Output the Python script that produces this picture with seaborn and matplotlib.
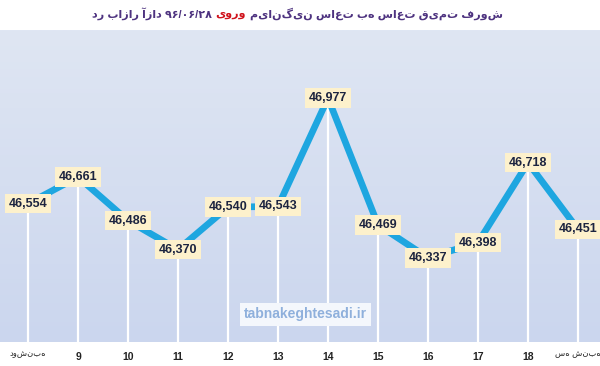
import numpy as np
import pandas as pd
import matplotlib
matplotlib.use("Agg")
import matplotlib.pyplot as plt
import matplotlib.transforms as mtrans
import seaborn as sns

# hourly average euro price (free market, 96/06/28)
hours = ["دوشنبه", "9", "10", "11", "12", "13", "14", "15", "16", "17", "18", "سه شنبه"]
prices = [46554, 46661, 46486, 46370, 46540, 46543, 46977, 46469, 46337, 46398, 46718, 46451]

# title pieces, right to left; the middle word is red
title_parts = ["میانگین ساعت به ساعت قیمت فروش", "یورو", "در بازار آزاد ۹۶/۰۶/۲۸"]
title_colors = ["#4e3380", "#d0121b", "#4e3380"]

sns.set_style("white")
plt.rcParams['font.family'] = ['Liberation Sans', 'DejaVu Sans']

df = pd.DataFrame({"pos": np.arange(len(hours)), "price": prices})

fig = plt.figure(figsize=(6, 3.66), dpi=100)
ax = fig.add_axes([0, 0.066, 1, 0.852])

# soft background gradient
grad = np.linspace(0, 1, 256).reshape(-1, 1)
cmap = matplotlib.colors.LinearSegmentedColormap.from_list("bg", ["#dfe6f3", "#cbd6ee"])
ax.imshow(grad, aspect="auto", cmap=cmap, extent=[-0.56, 11.44, 46000, 47250],
          origin="upper", zorder=0)

# white drop lines
ax.vlines(df["pos"], 46000, df["price"], color="white", linewidth=1.6, zorder=1)

sns.lineplot(data=df, x="pos", y="price", ax=ax, color="#1ea6e0", linewidth=4.8,
             zorder=2, solid_joinstyle="miter")

for x, y in zip(df["pos"], df["price"]):
    ax.text(x, y, f"{y:,}", ha="center", va="center", fontsize=9, fontweight="bold",
            color="#1c2440", zorder=3,
            bbox=dict(boxstyle="square,pad=0.3", facecolor="#fdf1cc", edgecolor="none"))

ax.text(5.55, 46110, "tabnakeghtesadi.ir", ha="center", va="center", fontsize=10,
        color="#8fb0dc", fontweight="bold", zorder=3,
        bbox=dict(boxstyle="square,pad=0.3", facecolor="#f4f7fc", edgecolor="none"))

ax.set_xlim(-0.56, 11.44)
ax.set_ylim(46000, 47250)
ax.set_xticks(df["pos"])
ax.set_xticklabels(hours, fontsize=7.5, fontweight="bold", color="#222222")
labels = ax.get_xticklabels()
for lbl in labels:
    if not lbl.get_text().isdigit():
        lbl.set_fontweight("normal")
        lbl.set_fontsize(6)
labels[-1].set_transform(labels[-1].get_transform()
                         + mtrans.ScaledTranslation(-8 / 100, 0, fig.dpi_scale_trans))
ax.tick_params(axis="x", length=0, pad=7)
ax.set_yticks([])
ax.set_xlabel("")
ax.set_ylabel("")
for s in ax.spines.values():
    s.set_visible(False)

# title drawn right to left in three pieces
renderer = fig.canvas.get_renderer()
x_right = 503
for part, col in zip(title_parts, title_colors):
    t = fig.text(x_right / 600, 0.962, part, ha="right", va="center", fontsize=8,
                 fontweight="bold", color=col)
    bb = t.get_window_extent(renderer)
    x_right = bb.x0 - 4

fig.savefig("out.png", dpi=100)
